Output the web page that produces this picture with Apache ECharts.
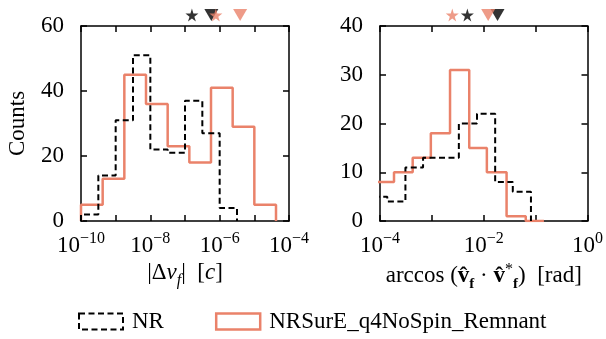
<!DOCTYPE html>
<html>
<head>
<meta charset="utf-8">
<script src="https://cdn.jsdelivr.net/npm/echarts@6/dist/echarts.min.js"></script>
<style>
  html, body { margin: 0; padding: 0; background: #fff; }
  #chart { width: 606px; height: 339px; }
</style>
</head>
<body>
<div id="chart"></div>
<script>
// left panel: |dv_f| histograms, bin edges as log10 exponents
const dvEdgesNR = [-10, -9.5, -9, -8.5, -8, -7.5, -7, -6.5, -6, -5.5]
const dvCountsNR = [2, 14, 31, 51, 22, 21, 37, 27, 4]
const dvEdgesSur = [-10, -9.375, -8.75, -8.125, -7.5, -6.875, -6.25, -5.625, -5, -4.375]
const dvCountsSur = [5, 13, 45, 36, 23, 18, 41, 29, 5]

// right panel: arccos(v_f . v_f*) histograms
const angEdgesNR = [-4.2, -3.86, -3.51, -3.17, -2.82, -2.48, -2.13, -1.78, -1.44, -1.09]
const angCountsNR = [5, 4, 11, 13, 13, 20, 22, 8, 6]
const angEdgesSur = [-4.09, -3.73, -3.37, -3.02, -2.65, -2.28, -1.94, -1.56, -1.19, -0.84]
const angCountsSur = [8, 10, 13, 18, 31, 15, 10, 1, 0]

// markers above the panels (log10 exponents): star = median, triangle = 90th pct
const dvMarkNR = { star: -6.8, tri: -6.24 }
const dvMarkSur = { star: -6.11, tri: -5.41 }
const angMarkNR = { star: -2.32, tri: -1.74 }
const angMarkSur = { star: -2.61, tri: -1.92 }

const FONT = 'Liberation Serif'
const FS = 23
const ORANGE = '#EA826A'
const STAR = 'path://M50,0 L61,35 L98,35 L68,57 L79,91 L50,70 L21,91 L32,57 L2,35 L39,35 Z'

// histogram outline as step points
const stepData = (edges, counts) => {
    const pts = [[Math.pow(10, edges[0]), 0]]
    counts.forEach((c, i) => pts.push([Math.pow(10, edges[i]), c]))
    pts.push([Math.pow(10, edges[edges.length - 1]), 0])
    return pts
}

const superRich = {
    b: { fontFamily: FONT, fontSize: FS, color: '#000', verticalAlign: 'bottom' },
    s: { fontFamily: FONT, fontSize: 16, color: '#000', verticalAlign: 'bottom', padding: [0, 0, 10, 0] }
}
// only even powers get a label
const expLabel = (v) => {
    const e = Math.round(Math.log10(v))
    if (e % 2 !== 0) return ''
    return '{b|10}{s|' + (e < 0 ? '\u2212' + (-e) : e) + '}'
}

const frameX = (gridIndex, min, max, bottom) => ({
    type: 'log', logBase: 10, gridIndex, min, max,
    position: bottom ? 'bottom' : 'top',
    splitNumber: Math.round(Math.log10(max / min)),
    axisLine: { show: true, onZero: false, lineStyle: { color: '#000', width: 1.5 } },
    axisTick: { show: true, inside: true, length: 6, lineStyle: { color: '#000', width: 1.5 } },
    axisLabel: bottom ? { show: true, margin: 10, formatter: expLabel, rich: superRich } : { show: false },
    minorTick: { show: false },
    splitLine: { show: false }
})
const frameY = (gridIndex, max, interval, left) => ({
    type: 'value', gridIndex, min: 0, max, interval,
    position: left ? 'left' : 'right',
    axisLine: { show: true, lineStyle: { color: '#000', width: 1.5 } },
    axisTick: { show: true, inside: true, length: 6, lineStyle: { color: '#000', width: 1.5 } },
    axisLabel: left ? { show: true, margin: 17, fontFamily: FONT, fontSize: FS, color: '#000' } : { show: false },
    splitLine: { show: false }
})
const markX = (gridIndex, min, max) => ({ type: 'log', logBase: 10, gridIndex, min, max, show: false })
const markY = (gridIndex) => ({ type: 'value', gridIndex, min: 0, max: 1, show: false })

const histSeries = (name, xi, yi, edges, counts, color, dashed) => ({
    name, type: 'line', xAxisIndex: xi, yAxisIndex: yi,
    step: 'end', showSymbol: false, symbol: 'none', silent: true,
    data: stepData(edges, counts),
    itemStyle: { color },
    lineStyle: { color, width: dashed ? 2 : 2.5, type: dashed ? [6, 3.5] : 'solid' },
    z: dashed ? 3 : 2
})
const markSeries = (xi, yi, mark, color, z) => ([
    {
        type: 'scatter', xAxisIndex: xi, yAxisIndex: yi, silent: true, z,
        symbol: STAR, symbolSize: 13, itemStyle: { color },
        data: [[Math.pow(10, mark.star), 0.5]]
    },
    {
        type: 'scatter', xAxisIndex: xi, yAxisIndex: yi, silent: true, z,
        symbol: 'triangle', symbolRotate: 180, symbolSize: [14, 12], itemStyle: { color },
        data: [[Math.pow(10, mark.tri), 0.5]]
    }
])

const el = document.getElementById('chart')
const chart = echarts.init(el, null, { renderer: 'canvas' })

const option = {
    animation: false,
    backgroundColor: '#fff',
    grid: [
        { left: 81, top: 26, width: 208, height: 195 },
        { left: 380, top: 26, width: 208, height: 195 },
        { left: 81, top: 8, width: 208, height: 14 },
        { left: 380, top: 8, width: 208, height: 14 }
    ],
    xAxis: [
        Object.assign(frameX(0, 1e-10, 1e-4, true), {
            name: '{r|\u007c\u0394}{i|v}{sub|f}{r|\u007c  [}{i|c}{r|]}',
            nameLocation: 'middle', nameGap: 40,
            nameTextStyle: {
                rich: {
                    r: { fontFamily: FONT, fontSize: FS, color: '#000', verticalAlign: 'bottom', padding: [0, 0, 4, 0] },
                    i: { fontFamily: FONT, fontSize: FS, fontStyle: 'italic', color: '#000', verticalAlign: 'bottom', padding: [0, 0, 4, 0] },
                    sub: { fontFamily: FONT, fontSize: 16, fontStyle: 'italic', color: '#000', verticalAlign: 'bottom' }
                }
            }
        }),
        frameX(0, 1e-10, 1e-4, false),
        Object.assign(frameX(1, 1e-4, 1, true), {
            name: '{r|arccos (}{bv|v\u0302}{bs|f}{r| \u00b7 }{bv|v\u0302}{sup|*}{bs|f}{r|)  [rad]}',
            nameLocation: 'middle', nameGap: 40,
            nameTextStyle: {
                rich: {
                    r: { fontFamily: FONT, fontSize: FS, color: '#000', verticalAlign: 'bottom', padding: [0, 0, 4, 0] },
                    bv: { fontFamily: FONT, fontSize: FS, fontWeight: 'bold', color: '#000', verticalAlign: 'bottom', padding: [0, 0, 4, 0] },
                    bs: { fontFamily: FONT, fontSize: 15, fontWeight: 'bold', color: '#000', verticalAlign: 'bottom' },
                    sup: { fontFamily: FONT, fontSize: 16, color: '#000', verticalAlign: 'bottom', padding: [0, 0, 14, 0] }
                }
            }
        }),
        frameX(1, 1e-4, 1, false),
        markX(2, 1e-10, 1e-4),
        markX(3, 1e-4, 1)
    ],
    yAxis: [
        Object.assign(frameY(0, 60, 20, true), {
            name: 'Counts', nameLocation: 'middle', nameGap: 52, nameRotate: 90,
            nameTextStyle: { fontFamily: FONT, fontSize: FS, color: '#000' }
        }),
        frameY(0, 60, 20, false),
        frameY(1, 40, 10, true),
        frameY(1, 40, 10, false),
        markY(2),
        markY(3)
    ],
    legend: {
        left: 78, top: 310, padding: 0,
        itemWidth: 44, itemHeight: 16, itemGap: 51,
        textStyle: { fontFamily: FONT, fontSize: FS, color: '#000', padding: [0, 0, 0, 4] },
        data: [
            { name: 'NR', icon: 'rect', itemStyle: { color: 'rgba(0,0,0,0)', borderColor: '#000', borderWidth: 2, borderType: [6, 3.5] } },
            { name: 'NRSurE_q4NoSpin_Remnant', icon: 'rect', itemStyle: { color: 'rgba(0,0,0,0)', borderColor: ORANGE, borderWidth: 2.5 } }
        ]
    },
    series: [
        histSeries('NRSurE_q4NoSpin_Remnant', 0, 0, dvEdgesSur, dvCountsSur, ORANGE, false),
        histSeries('NR', 0, 0, dvEdgesNR, dvCountsNR, '#000', true),
        histSeries('NRSurE_q4NoSpin_Remnant', 2, 2, angEdgesSur, angCountsSur, ORANGE, false),
        histSeries('NR', 2, 2, angEdgesNR, angCountsNR, '#000', true),
        ...markSeries(4, 4, dvMarkNR, '#000', 3),
        ...markSeries(4, 4, dvMarkSur, ORANGE, 4),
        ...markSeries(5, 5, angMarkNR, '#000', 3),
        ...markSeries(5, 5, angMarkSur, ORANGE, 4)
    ]
}

chart.setOption(option)
</script>
</body>
</html>
